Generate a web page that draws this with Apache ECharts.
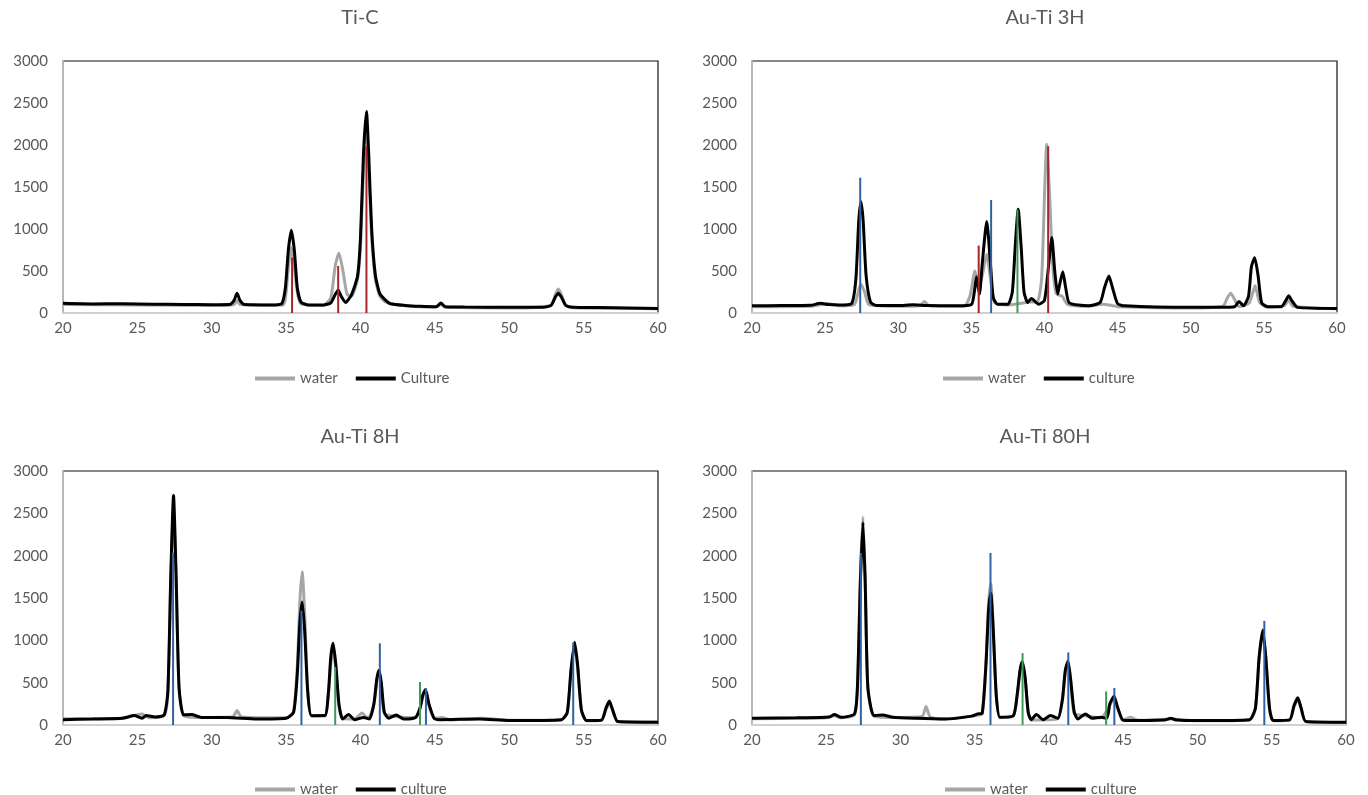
<!DOCTYPE html>
<html>
<head>
<meta charset="utf-8">
<title>XRD</title>
<script src="https://cdn.jsdelivr.net/npm/echarts@6/dist/echarts.min.js"></script>
<style>
  html, body { margin: 0; padding: 0; background: #fff; }
  #main { width: 1368px; height: 795px; }
</style>
</head>
<body>
<div id="main"></div>
<script>
// 2θ range and intensity ticks
const xTicks = [20, 60, 5];
const yTicks = [0, 3000, 500];

// ---- Ti-C ----
const tiCWater = [[20,100],[25,95],[30,90],[31.5,100],[31.7,150],[31.9,100],[34.8,95],[35.0,250],[35.15,550],[35.35,780],[35.55,550],[35.75,250],[36.0,110],[37.5,90],[38.0,180],[38.3,560],[38.55,715],[38.8,520],[39.1,220],[39.4,200],[39.8,400],[40.0,800],[40.2,1700],[40.4,2100],[40.55,1700],[40.75,900],[41.0,400],[41.3,200],[41.7,130],[43,85],[45,70],[45.4,100],[45.7,70],[50,60],[52.8,90],[53.1,220],[53.3,285],[53.5,220],[53.8,90],[54.3,62],[58,55],[60,50]];
const tiCCulture = [[20,115],[22,108],[24,110],[26,105],[28,102],[30,98],[31.2,100],[31.5,150],[31.7,235],[31.9,150],[32.2,100],[34,95],[34.7,110],[34.95,300],[35.15,750],[35.35,985],[35.55,750],[35.75,300],[36.0,130],[36.5,95],[37.5,95],[38.0,120],[38.3,220],[38.5,275],[38.7,200],[39.0,125],[39.4,220],[39.8,440],[40.0,900],[40.2,1900],[40.4,2400],[40.55,1900],[40.75,1000],[41.0,450],[41.3,230],[41.7,150],[42,110],[43,90],[44,80],[45.1,75],[45.4,120],[45.7,75],[47,70],[50,67],[52,68],[52.8,90],[53.1,190],[53.3,235],[53.5,190],[53.8,90],[54.3,68],[56,65],[58,60],[60,55]];
const tiCRed = [[35.4,660],[38.5,560],[40.4,1985]];

// ---- Au-Ti 3H ----
const au3Water = [[20,75],[24,80],[25.2,110],[26,85],[27.0,100],[27.3,280],[27.45,343],[27.7,250],[28.0,100],[30,80],[31.5,90],[31.8,138],[32.1,85],[34.5,80],[34.9,200],[35.25,500],[35.5,300],[35.75,450],[36.05,700],[36.35,350],[36.6,120],[37.5,95],[38.2,110],[39.0,130],[39.5,130],[39.8,400],[40.0,1400],[40.15,2010],[40.35,1400],[40.55,600],[40.8,230],[41.2,200],[41.6,100],[43,80],[44.0,105],[44.6,90],[45,75],[50,60],[52.2,80],[52.5,180],[52.73,236],[53.0,160],[53.3,75],[54.0,120],[54.4,323],[54.7,130],[55.2,70],[56.4,90],[56.7,150],[57.0,80],[60,50]];
const au3Culture = [[20,85],[22,88],[24,92],[24.7,115],[25.2,100],[26,95],[26.8,110],[27.1,400],[27.3,1100],[27.45,1325],[27.6,1100],[27.8,450],[28.1,130],[28.5,90],[30,88],[31,98],[32,88],[34,85],[35.0,100],[35.2,250],[35.35,433],[35.55,225],[35.75,600],[36.05,1090],[36.3,600],[36.5,180],[36.8,105],[37.5,105],[37.8,250],[38.0,800],[38.2,1235],[38.4,800],[38.6,250],[38.85,125],[39.1,173],[39.6,105],[40.0,150],[40.3,600],[40.5,900],[40.7,500],[40.9,225],[41.05,350],[41.25,490],[41.45,300],[41.7,120],[43,87],[43.8,125],[44.1,300],[44.4,440],[44.65,300],[45.0,110],[45.5,85],[50,67],[52,67],[53.0,75],[53.3,138],[53.6,85],[53.95,200],[54.15,550],[54.37,657],[54.6,450],[54.85,120],[55.3,75],[56.2,75],[56.5,150],[56.7,205],[56.9,150],[57.3,67],[60,55]];
const au3Blue = [[27.4,1610],[36.35,1346]];
const au3Red = [[35.5,803],[40.25,1985]];
const au3Green = [[38.15,1230]];

// ---- Au-Ti 8H ----
const au8Water = [[20,75],[24,80],[25.3,131],[25.8,85],[26.8,110],[27.05,380],[27.25,1700],[27.43,2550],[27.6,1700],[27.8,420],[28.1,110],[29,90],[31.4,95],[31.7,170],[32.0,95],[35,85],[35.5,160],[35.75,700],[35.92,1450],[36.08,1810],[36.25,1300],[36.45,420],[36.7,110],[37.6,105],[37.85,380],[38.0,720],[38.16,880],[38.35,650],[38.55,230],[38.8,75],[39.6,70],[40.1,143],[40.5,75],[40.9,240],[41.1,520],[41.25,610],[41.4,470],[41.6,140],[42.4,100],[43.7,85],[44.0,190],[44.2,340],[44.37,390],[44.6,230],[44.95,80],[45.5,90],[46,60],[48.2,80],[50,55],[53.5,60],[53.9,140],[54.15,620],[54.4,940],[54.6,670],[54.85,170],[55.2,50],[56.2,52],[56.5,180],[56.73,255],[56.95,170],[57.3,40],[60,35]];
const au8Culture = [[20,63],[22,70],[24,80],[24.8,111],[25.3,80],[25.6,111],[26.2,95],[26.8,120],[27.05,400],[27.25,1800],[27.43,2710],[27.6,1800],[27.8,450],[28.1,120],[28.65,123],[29.3,90],[31,90],[33,71],[35,80],[35.5,150],[35.75,600],[35.92,1200],[36.08,1452],[36.25,1100],[36.45,400],[36.7,110],[37.6,111],[37.85,400],[38.0,800],[38.16,965],[38.35,700],[38.55,250],[38.8,71],[39.2,123],[39.6,63],[40.2,90],[40.6,71],[40.9,250],[41.1,550],[41.25,647],[41.4,500],[41.6,150],[41.9,80],[42.4,119],[42.9,71],[43.7,90],[44.0,200],[44.2,360],[44.37,420],[44.6,250],[44.95,80],[45.3,63],[48,71],[50,52],[53.5,63],[53.9,150],[54.15,650],[54.4,976],[54.6,700],[54.85,180],[55.2,52],[56.2,58],[56.5,200],[56.73,282],[56.95,180],[57.3,40],[60,32]];
const au8Blue = [[27.4,2035],[36.03,1350],[41.3,965],[44.4,437],[54.3,976]];
const au8Green = [[38.3,686],[44.0,508]];

// ---- Au-Ti 80H ----
const au80Water = [[20,75],[25,85],[25.55,110],[26,85],[26.9,120],[27.1,460],[27.3,1750],[27.47,2460],[27.62,1750],[27.8,440],[28.2,105],[29.5,88],[31.45,100],[31.72,218],[32.0,95],[33,72],[35,110],[35.5,130],[35.75,720],[35.93,1430],[36.08,1667],[36.25,1150],[36.45,340],[36.7,88],[37.6,105],[37.85,330],[38.05,620],[38.2,720],[38.4,530],[38.6,140],[38.8,60],[39.6,60],[40.6,75],[40.9,290],[41.1,620],[41.28,730],[41.45,530],[41.7,140],[42.45,110],[43.5,85],[44.1,235],[44.38,320],[44.6,210],[44.95,60],[45.5,91],[46,55],[48.2,70],[50,50],[53.5,60],[53.9,190],[54.15,780],[54.4,1100],[54.6,780],[54.85,190],[55.1,50],[56.2,55],[56.5,210],[56.75,300],[56.98,190],[57.3,40],[60,30]];
const au80Culture = [[20,79],[23,85],[25.2,95],[25.55,123],[26.0,91],[26.9,131],[27.1,450],[27.3,1700],[27.47,2393],[27.62,1700],[27.8,450],[28.2,111],[28.8,119],[29.5,91],[31,79],[33,71],[34.8,105],[35.2,131],[35.5,140],[35.75,700],[35.93,1350],[36.08,1560],[36.25,1100],[36.45,350],[36.7,91],[37.6,111],[37.85,350],[38.05,650],[38.2,746],[38.4,550],[38.6,150],[38.8,63],[39.15,123],[39.6,63],[40.1,111],[40.6,79],[40.9,300],[41.1,650],[41.28,754],[41.45,550],[41.7,150],[41.95,71],[42.45,131],[42.9,79],[43.5,91],[43.9,80],[44.1,250],[44.38,341],[44.6,220],[44.95,60],[45.3,52],[47.8,60],[48.2,79],[48.6,58],[50,52],[53.5,63],[53.9,200],[54.15,800],[54.4,1123],[54.6,800],[54.85,200],[55.1,52],[56.2,60],[56.5,230],[56.75,321],[56.98,200],[57.3,40],[60,32]];
const au80Blue = [[27.33,2032],[36.06,2032],[41.3,857],[44.4,437],[54.5,1230]];
const au80Green = [[38.22,850],[43.85,397]];

const panels = [
  { title: 'Ti-C', water: tiCWater, culture: tiCCulture, cultureName: 'Culture',
    sticks: [['#a3262a', tiCRed]],
    grid: { left: 63, top: 61, width: 595, height: 252 }, cx: 360, ty: 18, legLeft: 250, legTop: 366 },
  { title: 'Au-Ti 3H', water: au3Water, culture: au3Culture, cultureName: 'culture',
    sticks: [['#2f62a5', au3Blue], ['#a3262a', au3Red], ['#3d9a57', au3Green]],
    grid: { left: 752, top: 61, width: 585, height: 252 }, cx: 1045, ty: 18, legLeft: 938, legTop: 366 },
  { title: 'Au-Ti 8H', water: au8Water, culture: au8Culture, cultureName: 'culture',
    sticks: [['#2f62a5', au8Blue], ['#3d9a57', au8Green]],
    grid: { left: 63, top: 471, width: 595, height: 254 }, cx: 360, ty: 437, legLeft: 250, legTop: 777 },
  { title: 'Au-Ti 80H', water: au80Water, culture: au80Culture, cultureName: 'culture',
    sticks: [['#2f62a5', au80Blue], ['#3d9a57', au80Green]],
    grid: { left: 752, top: 471, width: 594, height: 254 }, cx: 1045, ty: 437, legLeft: 940, legTop: 777 }
];

const FONT = 'Lato, "Open Sans", sans-serif';
const TXT = '#595959';

let chart = echarts.init(document.getElementById('main'));

let grid = [], xAxis = [], yAxis = [], series = [], legend = [], graphic = [];

panels.forEach(function (p, i) {
  grid.push(Object.assign({ show: true, borderColor: '#111', borderWidth: 1.2, containLabel: false }, p.grid));
  xAxis.push({
    type: 'value', gridIndex: i, min: xTicks[0], max: xTicks[1], interval: xTicks[2],
    axisLine: { show: true, onZero: false, lineStyle: { color: '#d0d0d0', width: 2 } },
    axisTick: { show: false }, splitLine: { show: false },
    axisLabel: { color: TXT, fontSize: 15, fontFamily: FONT, margin: 8 }
  });
  yAxis.push({
    type: 'value', gridIndex: i, min: yTicks[0], max: yTicks[1], interval: yTicks[2],
    axisLine: { show: true, lineStyle: { color: '#d0d0d0', width: 1.5 } },
    axisTick: { show: false }, splitLine: { show: false },
    axisLabel: { color: TXT, fontSize: 15, fontFamily: FONT, margin: 15,
      formatter: function (v) { return String(v); } }
  });
  series.push({
    name: 'water', type: 'line', xAxisIndex: i, yAxisIndex: i, data: p.water,
    color: '#a6a6a6', showSymbol: false, symbol: 'none', smooth: 0.2,
    lineStyle: { width: 3, color: '#a6a6a6' }, z: 2
  });
  series.push({
    name: p.cultureName, type: 'line', xAxisIndex: i, yAxisIndex: i, data: p.culture,
    color: '#000', showSymbol: false, symbol: 'none', smooth: 0.2,
    lineStyle: { width: 3, color: '#000' }, z: 3
  });
  p.sticks.forEach(function (s) {
    series.push({
      type: 'bar', xAxisIndex: i, yAxisIndex: i, data: s[1],
      barWidth: 2, barGap: '-100%', itemStyle: { color: s[0] }, z: 4, silent: true
    });
  });
  legend.push({
    data: ['water', p.cultureName], left: p.legLeft, top: p.legTop,
    icon: 'rect', itemWidth: 40, itemHeight: 4, itemGap: 18,
    textStyle: { color: TXT, fontSize: 15, fontFamily: FONT }
  });
  graphic.push({
    type: 'text', x: p.cx, y: p.ty,
    style: { text: p.title, fill: TXT, fontSize: 20, fontFamily: FONT, textAlign: 'center', textVerticalAlign: 'middle' }
  });
});

let option = {
  backgroundColor: '#fff',
  animation: false,
  grid: grid,
  xAxis: xAxis,
  yAxis: yAxis,
  legend: legend,
  graphic: graphic,
  series: series
};

chart.setOption(option);

window.addEventListener('resize', () => {
  chart.resize();
});
</script>
</body>
</html>
